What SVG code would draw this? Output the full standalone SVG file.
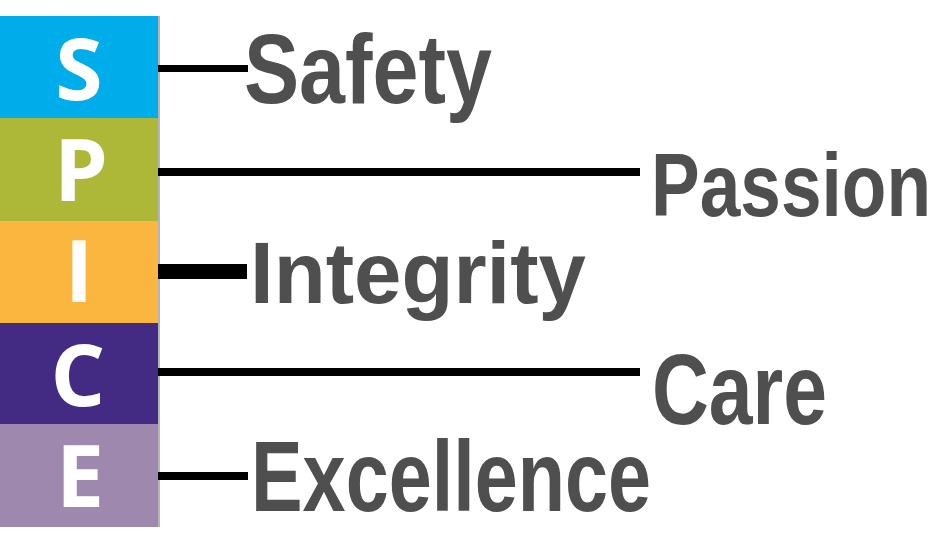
<svg xmlns="http://www.w3.org/2000/svg" width="939" height="538" viewBox="0 0 939 538">
<style>
.letter{font-family:"Open Sans","Liberation Sans",sans-serif;font-weight:700;font-size:86px;fill:#ffffff;text-anchor:middle}
.label{font-family:"Liberation Sans",Arial,sans-serif;font-weight:bold;fill:#4f4f50}
.conn{stroke:#000000;stroke-width:8;fill:none}
.edge{fill:#b5b5b5}
</style>
<rect width="939" height="538" fill="#ffffff"/>
<g id="node-S">
<rect x="0" y="16" width="158" height="102" fill="#00adeb"/>
<rect class="edge" x="158" y="16" width="2" height="102"/>
<text class="letter" x="79" y="100">S</text>
</g>
<g id="node-P">
<rect x="0" y="118" width="158" height="103" fill="#adb839"/>
<rect class="edge" x="158" y="118" width="2" height="103"/>
<text class="letter" x="81" y="201">P</text>
</g>
<g id="node-I">
<rect x="0" y="221" width="158" height="102" fill="#fbb640"/>
<rect class="edge" x="158" y="221" width="2" height="102"/>
<text class="letter" x="79" y="302">I</text>
</g>
<g id="node-C">
<rect x="0" y="323" width="158" height="101" fill="#432b84"/>
<rect class="edge" x="158" y="323" width="2" height="101"/>
<text class="letter" x="78" y="406">C</text>
</g>
<g id="node-E">
<rect x="0" y="424" width="158" height="103" fill="#9e88ad"/>
<rect class="edge" x="158" y="424" width="2" height="103"/>
<text class="letter" x="80" y="507">E</text>
</g>
<g id="connectors">
<line class="conn" x1="158" y1="68.5" x2="248" y2="68.5" style="stroke-width:7"/>
<line class="conn" x1="158" y1="172" x2="640" y2="172"/>
<line class="conn" x1="158" y1="271.5" x2="247" y2="271.5" style="stroke-width:15"/>
<line class="conn" x1="158" y1="372" x2="640" y2="372"/>
<line class="conn" x1="158" y1="476" x2="248" y2="476"/>
</g>
<g id="label-safety"><text class="label" x="244" y="103" font-size="99" textLength="248" lengthAdjust="spacingAndGlyphs">Safety</text></g>
<g id="label-passion"><text class="label" x="651" y="216" font-size="89" textLength="280" lengthAdjust="spacingAndGlyphs">Passion</text></g>
<g id="label-integrity"><text class="label" x="250" y="303" font-size="88" textLength="336" lengthAdjust="spacingAndGlyphs">Integrity</text></g>
<g id="label-care"><text class="label" x="652" y="424" font-size="100" textLength="175" lengthAdjust="spacingAndGlyphs">Care</text></g>
<g id="label-excellence"><text class="label" x="251" y="511" font-size="100" textLength="400" lengthAdjust="spacingAndGlyphs">Excellence</text></g>
</svg>
